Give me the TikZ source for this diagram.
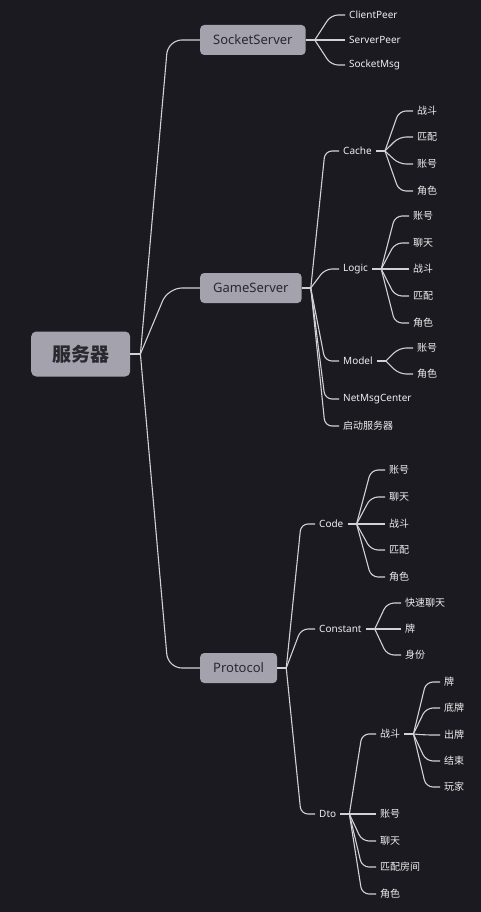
\documentclass[tikz,border=0pt]{standalone}
\usepackage{fontspec}
\setmainfont{Noto Sans}
\newfontfamily\cjk{Noto Sans CJK SC}
\definecolor{bg}{HTML}{1B1A20}
\definecolor{nodefill}{HTML}{A3A2AD}
\definecolor{maintext}{HTML}{2A2930}
\definecolor{leaftext}{HTML}{EEEEF0}
\definecolor{linecol}{HTML}{D2D2D6}
\newcommand\kids[2]{\foreach \c in {#2}{\draw[link] (#1) -- ([xshift=-14pt]\c.west) -- (\c.west);}}
\newcommand\stub[2]{\coordinate (#2) at ([xshift=9pt]#1.east); \draw[link] (#1.east) -- (#2);}
\begin{document}
\begin{tikzpicture}[x=1pt,y=-1pt,
  rootbox/.style={fill=nodefill, rounded corners=5pt, text=maintext, font=\cjk\bfseries\fontsize{19}{22}\selectfont, minimum width=99pt, minimum height=45pt, anchor=west, inner sep=0pt},
  mainbox/.style={fill=nodefill, rounded corners=4pt, text=maintext, font=\fontsize{13}{15}\selectfont, minimum height=30pt, inner xsep=13pt, inner ysep=0pt, anchor=west},
  leaf/.style={text=leaftext, font=\fontsize{10}{12}\selectfont, inner xsep=4pt, inner ysep=2pt, anchor=west},
  zh/.style={leaf, font=\cjk\fontsize{10}{12}\selectfont},
  link/.style={draw=linecol, line width=1.1pt, rounded corners=7pt},
  rootlink/.style={link, rounded corners=14pt}]
\fill[bg] (0,0) rectangle (481,912);
\useasboundingbox (0,0) rectangle (481,912);

% main
\node[rootbox] (root) at (31,354) {服务器};
\node[mainbox] (ss) at (200,40) {SocketServer};
\node[mainbox] (gs) at (200,288) {GameServer};
\node[mainbox] (pr) at (200,668) {Protocol};

% SocketServer
\node[leaf] (cp) at (345,15) {ClientPeer};
\node[leaf] (sp) at (345,40) {ServerPeer};
\node[leaf] (sm) at (345,65) {SocketMsg};

% GameServer
\node[leaf] (cache) at (339,151) {Cache};
\node[leaf] (logic) at (339,269) {Logic};
\node[leaf] (model) at (339,361) {Model};
\node[leaf] (nmc) at (339,399) {NetMsgCenter};
\node[zh] (qd) at (339,426) {启动服务器};

\node[zh] (c1) at (413,111) {战斗};
\node[zh] (c2) at (413,137) {匹配};
\node[zh] (c3) at (413,164) {账号};
\node[zh] (c4) at (413,191) {角色};

\node[zh] (l1) at (409,216) {账号};
\node[zh] (l2) at (409,243) {聊天};
\node[zh] (l3) at (409,269) {战斗};
\node[zh] (l4) at (409,296) {匹配};
\node[zh] (l5) at (409,323) {角色};

\node[zh] (m1) at (413,348) {账号};
\node[zh] (m2) at (413,374) {角色};

% Protocol
\node[leaf] (code) at (315,524) {Code};
\node[leaf] (const) at (315,629) {Constant};
\node[leaf] (dto) at (315,814) {Dto};

\node[zh] (k1) at (385,470) {账号};
\node[zh] (k2) at (385,497) {聊天};
\node[zh] (k3) at (385,524) {战斗};
\node[zh] (k4) at (385,550) {匹配};
\node[zh] (k5) at (385,577) {角色};

\node[zh] (n1) at (401,603) {快速聊天};
\node[zh] (n2) at (401,629) {牌};
\node[zh] (n3) at (401,655) {身份};

\node[zh] (d1) at (376,734) {战斗};
\node[zh] (d2) at (376,814) {账号};
\node[zh] (d3) at (376,841) {聊天};
\node[zh] (d4) at (376,867) {匹配房间};
\node[zh] (d5) at (376,894) {角色};

\node[zh] (f1) at (440,682) {牌};
\node[zh] (f2) at (440,708) {底牌};
\node[zh] (f3) at (440,735) {出牌};
\node[zh] (f4) at (440,761) {结束};
\node[zh] (f5) at (440,787) {玩家};

% connectors
\coordinate (jroot) at ([xshift=10pt]root.east);
\draw[link] (root.east) -- (jroot);
\foreach \c in {ss,gs,pr}{\draw[rootlink] (jroot) -- ([xshift=-32pt]\c.west) -- (\c.west);}

\stub{ss}{jss} \kids{jss}{cp,sp,sm}
\stub{gs}{jgs} \kids{jgs}{cache,logic,model,nmc,qd}
\stub{cache}{jcache} \kids{jcache}{c1,c2,c3,c4}
\stub{logic}{jlogic} \kids{jlogic}{l1,l2,l3,l4,l5}
\stub{model}{jmodel} \kids{jmodel}{m1,m2}
\stub{pr}{jpr} \kids{jpr}{code,const,dto}
\stub{code}{jcode} \kids{jcode}{k1,k2,k3,k4,k5}
\stub{const}{jconst} \kids{jconst}{n1,n2,n3}
\stub{dto}{jdto} \kids{jdto}{d1,d2,d3,d4,d5}
\stub{d1}{jd1} \kids{jd1}{f1,f2,f3,f4,f5}
\end{tikzpicture}
\end{document}
